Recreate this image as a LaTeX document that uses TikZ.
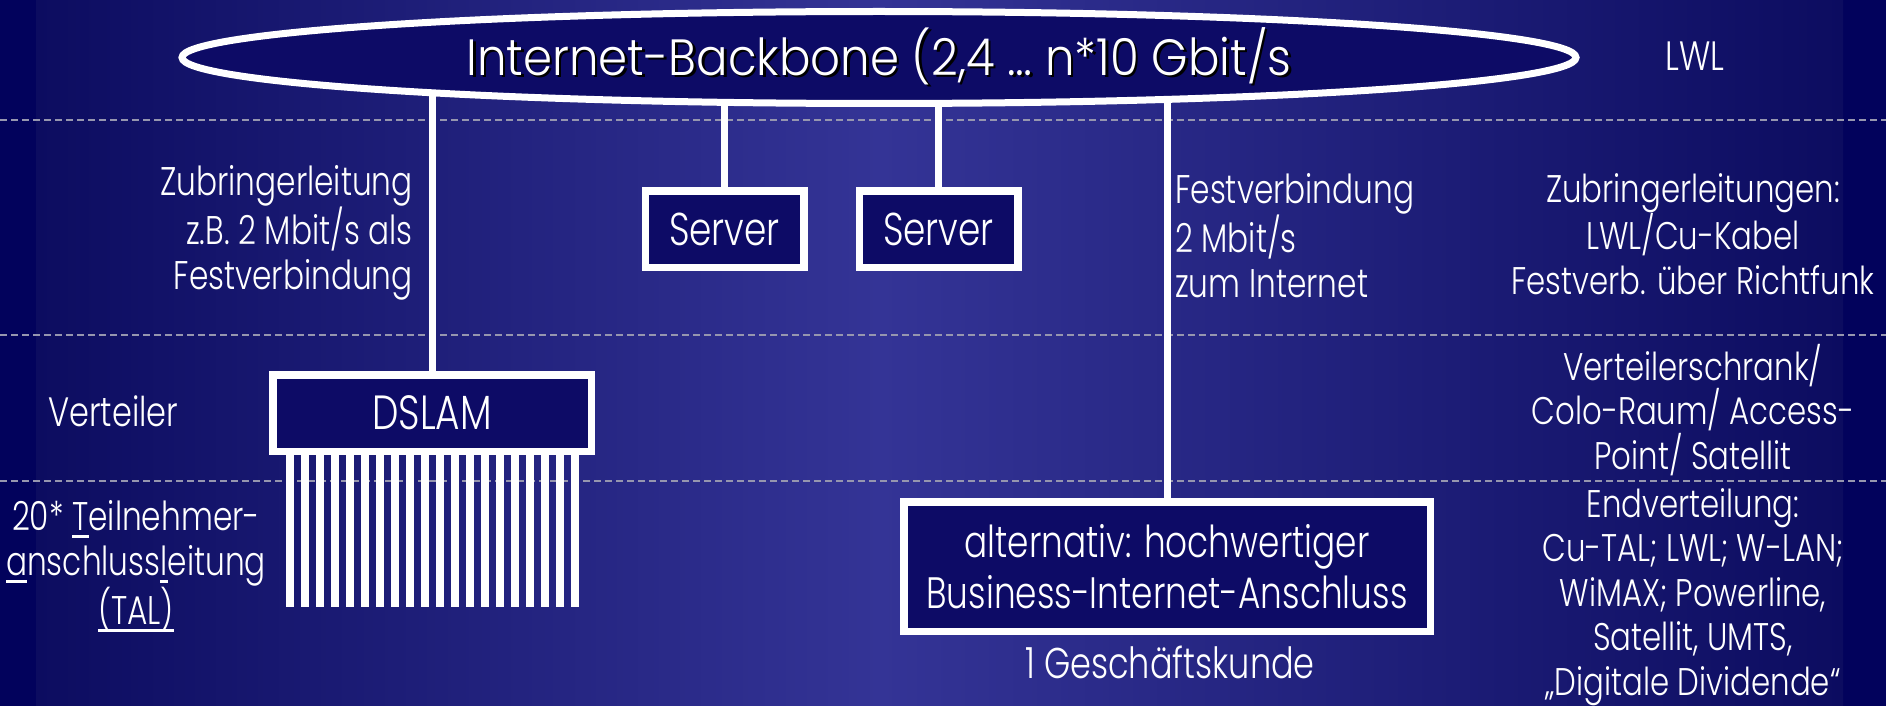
\documentclass[tikz,border=0pt]{standalone}
\usepackage{fontspec}
\usetikzlibrary{shapes.geometric}
\IfFontExistsTF{Poppins Light}{\def\pfam{Poppins Light}}{\def\pfam{Poppins}}
\newfontfamily\ftitle{\pfam}[FakeStretch=0.915]
\newfontfamily\fcond{\pfam}[FakeStretch=0.78]
\newfontfamily\fwide{\pfam}[FakeStretch=0.80]
\definecolor{edgec}{RGB}{2,2,92}
\definecolor{sidec}{RGB}{12,12,96}
\definecolor{midc}{RGB}{52,52,150}
\definecolor{boxc}{RGB}{13,11,102}
\definecolor{sepc}{RGB}{150,150,175}
\newcommand\shadowtext[1]{\makebox[0pt][l]{\kern2.5pt\raisebox{-2.5pt}{\color{black}#1}}#1}
\newcommand\myul[1]{\setbox0\hbox{#1}\rlap{\rule[-8pt]{\wd0}{3pt}}\box0}
\pgfdeclarelayer{bg}
\pgfsetlayers{bg,main}
\begin{document}
\begin{tikzpicture}[x=1pt,y=-1pt,
  box/.style={draw=white, line width=7.5pt, fill=boxc, inner sep=0pt, text=white},
  conn/.style={draw=white, line width=7pt},
  sepline/.style={draw=sepc, line width=1.3pt, dash pattern=on 7pt off 4pt},
  lbl/.style={text=white, inner sep=0pt},
  fs/.style={font={\fcond\fontsize{#1}{45}\selectfont}},
  fw/.style={font={\fwide\fontsize{#1}{44.5}\selectfont}},
]
\useasboundingbox (0,0) rectangle (1886,706);
% nodes
\node[ellipse, draw=white, line width=7pt, fill=boxc, inner sep=0pt, text=white,
      minimum width=1394pt, minimum height=92pt,
      font={\ftitle\fontsize{51}{60}\selectfont}] (bb) at (879,57.5)
      {\shadowtext{Internet-Backbone (2,4 … n*10 Gbit/s}};
\node[box, minimum width=318.5pt, minimum height=76.5pt, fs=48] (dslam) at (432,413) {DSLAM};
\node[box, minimum width=158.5pt, minimum height=76.5pt, fs=46] (s1) at (724.5,229) {Server};
\node[box, minimum width=158.5pt, minimum height=76.5pt, fs=46] (s2) at (938.5,229) {Server};
\node[box, minimum width=526.5pt, minimum height=129.5pt, align=center,
      font={\fcond\fontsize{44}{51}\selectfont}] (biz) at (1167,566.5)
      {alternativ: hochwertiger\\Business-Internet-Anschluss};
% labels
\node[lbl, fs=40, anchor=north east, align=right] (zub) at (413,155)
  {\rule{0pt}{40pt}Zubringerleitung\\z.B.\ 2 Mbit/s als\\Festverbindung};
\node[lbl, fs=40, anchor=north west, align=left] (fest) at (1175,163)
  {\rule{0pt}{40pt}Festverbindung\\2 Mbit/s\\zum Internet};
\node[lbl, fs=41, anchor=base west] (vert) at (48,426) {Verteiler};
\node[lbl, fs=40, anchor=north, align=center] (tal) at (136,490)
  {\rule{0pt}{40pt}20* \myul{T}eilnehmer-\\\myul{a}nschluss\myul{l}eitung\\\myul{(TAL)}};
\node[lbl, fs=43, anchor=base] (kunde) at (1170,678) {1 Geschäftskunde};
\node[lbl, fw=41, anchor=base] (lwl) at (1695,71) {LWL};
\node[lbl, fw=38.5, anchor=north, align=center] (r1) at (1693,162)
  {\rule{0pt}{40pt}Zubringerleitungen:\\LWL/Cu-Kabel\\Festverb. über Richtfunk};
\node[lbl, fw=38.5, anchor=north, align=center] (r2) at (1693,340)
  {\rule{0pt}{40pt}Verteilerschrank/\\Colo-Raum/ Access-\\Point/ Satellit};
\node[lbl, fw=38.5, anchor=north, align=center] (r3) at (1693,477)
  {\rule{0pt}{40pt}Endverteilung:\\Cu-TAL; LWL; W-LAN;\\WiMAX; Powerline,\\Satellit, UMTS,\\„Digitale Dividende“};
% background, separators and connectors
\begin{pgfonlayer}{bg}
\fill[edgec] (0,0) rectangle (1886,706);
\shade[left color=sidec, right color=midc] (36,0) rectangle (880,706);
\shade[left color=midc, right color=sidec] (880,0) rectangle (1843,706);
\foreach \yy in {120,335,481} \draw[sepline] (0,\yy) -- (1886,\yy);
\draw[conn] (dslam.north) -- (dslam.north |- bb.center);
\draw[conn] (s1.north) -- (s1.north |- bb.center);
\draw[conn] (s2.north) -- (s2.north |- bb.center);
\draw[conn] (biz.north) -- (biz.north |- bb.center);
\foreach \i in {0,...,19}
  \draw[white, line width=7.5pt] ([xshift={21+15*\i}]dslam.south west) -- ++(0,152);
\end{pgfonlayer}
\end{tikzpicture}
\end{document}
